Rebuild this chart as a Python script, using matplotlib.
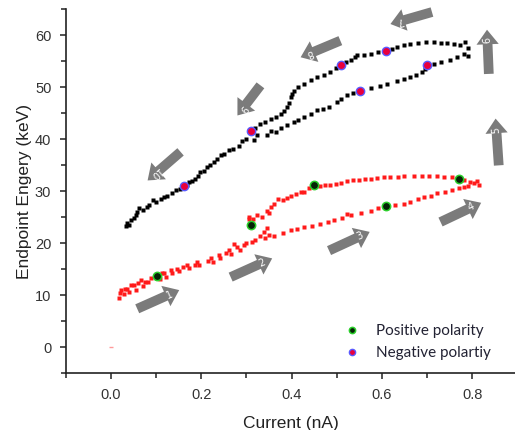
import numpy as np
import matplotlib
matplotlib.use("Agg")
import matplotlib.pyplot as plt
from matplotlib.ticker import MultipleLocator

# ---- measured data: Current (nA) vs endpoint energy (keV) ----
# positive polarity sweep (red)
pos_current = [0.018, 0.020, 0.021, 0.028, 0.030, 0.036, 0.040, 0.044, 0.051, 0.055,
               0.060, 0.066, 0.070, 0.075, 0.081, 0.088, 0.101, 0.108, 0.112, 0.118,
               0.122, 0.132, 0.135, 0.147, 0.150, 0.160, 0.169, 0.172, 0.185, 0.191,
               0.195, 0.215, 0.221, 0.225, 0.239, 0.242, 0.255, 0.261, 0.265, 0.272,
               0.280, 0.285, 0.294, 0.300, 0.313, 0.320, 0.331, 0.339, 0.345, 0.340,
               0.350, 0.306, 0.306, 0.315, 0.324, 0.335, 0.346, 0.350, 0.355, 0.361,
               0.369, 0.380, 0.390, 0.398, 0.410, 0.420, 0.428, 0.438, 0.449, 0.462,
               0.475, 0.486, 0.498, 0.510, 0.523, 0.537, 0.550, 0.562, 0.575, 0.590,
               0.605, 0.619, 0.635, 0.650, 0.671, 0.688, 0.705, 0.722, 0.738, 0.755,
               0.770, 0.783, 0.796, 0.805, 0.815, 0.810, 0.790, 0.781, 0.770, 0.756,
               0.740, 0.722, 0.708, 0.693, 0.680, 0.663, 0.650, 0.630, 0.610, 0.592,
               0.575, 0.553, 0.531, 0.523, 0.512, 0.494, 0.480, 0.464, 0.446, 0.428,
               0.413, 0.398, 0.380, 0.361]
pos_energy = [9.4, 10.4, 11.0, 10.2, 11.3, 11.2, 10.6, 12.0, 11.9, 11.0,
              12.4, 12.9, 11.8, 12.6, 12.6, 13.3, 13.7, 13.2, 14.3, 14.2,
              13.6, 14.8, 14.2, 15.1, 14.6, 15.5, 15.8, 15.2, 15.9, 16.4,
              15.9, 16.6, 17.1, 16.4, 17.7, 17.1, 18.2, 18.7, 18.0, 19.8,
              19.3, 18.8, 19.6, 20.0, 20.3, 20.6, 21.5, 22.2, 23.0, 21.0,
              21.6, 24.6, 25.1, 24.7, 25.4, 25.0, 26.3, 25.8, 27.0, 27.6,
              28.6, 28.3, 28.8, 29.2, 29.5, 29.8, 29.9, 30.6, 31.2, 31.0,
              31.2, 31.3, 31.5, 31.7, 31.9, 32.1, 32.2, 32.3, 32.4, 32.6,
              32.7, 32.75, 32.8, 32.9, 32.9, 32.9, 32.9, 32.9, 32.8, 32.7,
              32.4, 32.1, 31.8, 31.6, 31.3, 31.9, 31.0, 30.8, 30.6, 30.2,
              29.9, 29.6, 29.2, 28.9, 28.5, 27.9, 27.6, 27.3, 27.1, 26.7,
              26.3, 25.9, 25.4, 25.7, 24.9, 24.4, 24.1, 23.8, 23.4, 23.1,
              22.8, 22.5, 22.0, 21.5]

# negative polarity sweep (black)
neg_current = [0.033, 0.036, 0.040, 0.044, 0.050, 0.055, 0.058, 0.062, 0.070, 0.080,
               0.084, 0.092, 0.100, 0.110, 0.118, 0.125, 0.135, 0.143, 0.152, 0.161,
               0.168, 0.172, 0.180, 0.187, 0.193, 0.198, 0.205, 0.213, 0.220, 0.228,
               0.235, 0.243, 0.250, 0.261, 0.270, 0.283, 0.290, 0.300, 0.311, 0.316,
               0.324, 0.320, 0.331, 0.340, 0.354, 0.365, 0.376, 0.383, 0.390, 0.394,
               0.398, 0.402, 0.405, 0.415, 0.427, 0.442, 0.457, 0.472, 0.486, 0.498,
               0.510, 0.520, 0.531, 0.540, 0.545, 0.560, 0.575, 0.592, 0.610, 0.622,
               0.634, 0.648, 0.663, 0.680, 0.698, 0.715, 0.730, 0.745, 0.760, 0.774,
               0.785, 0.790, 0.781, 0.790, 0.767, 0.750, 0.730, 0.715, 0.700, 0.695,
               0.689, 0.675, 0.663, 0.648, 0.634, 0.612, 0.595, 0.575, 0.551, 0.537,
               0.523, 0.510, 0.501, 0.483, 0.470, 0.457, 0.442, 0.427, 0.415, 0.405,
               0.390, 0.376, 0.365, 0.354, 0.345]
neg_energy = [23.3, 24.0, 23.6, 24.4, 24.9, 25.4, 26.0, 26.7, 26.5, 27.0,
              27.3, 28.3, 28.0, 28.6, 28.9, 29.2, 29.6, 30.2, 30.4, 31.0,
              31.3, 31.8, 32.0, 32.4, 33.0, 33.7, 34.0, 34.7, 35.0, 35.6,
              36.3, 36.9, 37.2, 37.9, 38.2, 38.8, 39.7, 40.1, 41.5, 39.8,
              40.8, 42.2, 43.0, 43.4, 44.0, 44.4, 44.9, 45.5, 46.2, 47.0,
              48.1, 48.8, 49.4, 50.0, 50.7, 51.4, 52.0, 52.4, 52.9, 53.8,
              54.4, 54.8, 55.2, 55.8, 56.2, 56.3, 56.5, 56.8, 57.0, 57.4,
              57.8, 58.1, 58.4, 58.6, 58.7, 58.7, 58.6, 58.5, 58.4, 58.1,
              58.8, 57.5, 56.5, 56.0, 55.8, 55.3, 54.9, 54.6, 54.4, 53.6,
              52.9, 52.4, 52.0, 51.6, 51.3, 50.7, 50.3, 49.9, 49.3, 48.9,
              48.5, 47.7, 47.2, 46.3, 45.9, 45.6, 44.9, 44.3, 43.8, 43.3,
              42.7, 42.1, 41.5, 41.7, 40.9]

# highlighted operating points
pos_mark_current = [0.101, 0.311, 0.449, 0.610, 0.770]
pos_mark_energy = [13.7, 23.6, 31.2, 27.1, 32.4]
neg_mark_current = [0.161, 0.311, 0.510, 0.610, 0.551, 0.700]
neg_mark_energy = [31.0, 41.6, 54.4, 57.0, 49.3, 54.4]

# zero reference point
zero_current = [0.0]
zero_energy = [0.0]

# sweep-direction arrows: (label, tail, head) in data coordinates
arrows = [
    ("1", (0.058, 7.4), (0.151, 11.0)),
    ("2", (0.265, 13.5), (0.357, 17.1)),
    ("3", (0.483, 18.6), (0.573, 22.2)),
    ("4", (0.730, 24.1), (0.820, 27.8)),
    ("5", (0.859, 35.0), (0.852, 44.0)),
    ("6", (0.837, 52.6), (0.833, 61.1)),
    ("7", (0.711, 64.5), (0.619, 62.2)),
    ("8", (0.508, 59.0), (0.420, 55.8)),
    ("9", (0.331, 50.4), (0.280, 44.6)),
    ("10", (0.154, 37.6), (0.081, 32.1)),
]

fig = plt.figure(figsize=(5.15, 4.30), dpi=100)
ax = fig.add_axes([0.128, 0.132, 0.872, 0.846])

ax.plot(neg_current, neg_energy, ls="none", marker="s", ms=2.3, mec="none",
        color="black", zorder=3)
ax.plot(pos_current, pos_energy, ls="none", marker="s", ms=2.3, mec="none",
        color="#ff1a1a", zorder=3)
ax.plot(zero_current, zero_energy, ls="none", marker="_", ms=3, mew=1.0,
        color="#ff9a9a", zorder=3)

ax.plot(pos_mark_current, pos_mark_energy, ls="none", marker="o", ms=6.0,
        mfc="#062306", mec="#2ccf2c", mew=1.1, zorder=5,
        label="Positive polarity")
ax.plot(neg_mark_current, neg_mark_energy, ls="none", marker="o", ms=6.0,
        mfc="#e8003c", mec="#5a5aff", mew=1.0, zorder=5,
        label="Negative polartiy")

ax.set_xlim(-0.1, 0.895)
ax.set_ylim(-5, 65)
ax.xaxis.set_major_locator(MultipleLocator(0.2))
ax.xaxis.set_minor_locator(MultipleLocator(0.1))
ax.yaxis.set_major_locator(MultipleLocator(10))
ax.yaxis.set_minor_locator(MultipleLocator(5))
ax.xaxis.set_major_formatter(matplotlib.ticker.FormatStrFormatter("%.1f"))

for side in ("top", "right"):
    ax.spines[side].set_visible(False)
for side in ("left", "bottom"):
    ax.spines[side].set_linewidth(1.2)
    ax.spines[side].set_color("#222222")

ax.tick_params(which="both", direction="out", color="#222222", width=1.1)
ax.tick_params(which="major", length=4.5, pad=6, labelsize=10.5,
               labelcolor="#333333")
ax.tick_params(which="minor", length=3.5)
for lab in ax.get_xticklabels() + ax.get_yticklabels():
    lab.set_fontfamily("Liberation Sans")

ax.set_xlabel("Current (nA)", fontsize=12.5, family="Liberation Sans",
              color="#222222", labelpad=10)
ax.set_ylabel("Endpoint Engery (keV)", fontsize=12.5, family="Liberation Sans",
              color="#222222", labelpad=2)

# direction arrows with rotated numbers
arrow_color = "#7b7b7b"
fig.canvas.draw()
for label, tail, head in arrows:
    ax.annotate("", xy=head, xytext=tail, xycoords="data", textcoords="data",
                annotation_clip=False,
                arrowprops=dict(arrowstyle="simple,head_length=1.05,head_width=1.6,tail_width=0.7",
                                mutation_scale=10, color=arrow_color, lw=0,
                                shrinkA=0, shrinkB=0), zorder=4)
    p0 = ax.transData.transform(tail)
    p1 = ax.transData.transform(head)
    ang = np.degrees(np.arctan2(p1[1] - p0[1], p1[0] - p0[0]))
    f = 0.76
    tx = tail[0] + f * (head[0] - tail[0])
    ty = tail[1] + f * (head[1] - tail[1])
    ax.text(tx, ty, label, color="white", fontsize=7, rotation=ang,
            rotation_mode="anchor", ha="center", va="center",
            family="DejaVu Sans", zorder=6, clip_on=False)

leg = ax.legend(loc="center left", bbox_to_anchor=(0.585, 0.085), frameon=False,
                handlelength=1.2, handletextpad=1.0, labelspacing=0.5,
                markerscale=0.75, prop={"family": "Lato", "size": 11})
for t in leg.get_texts():
    t.set_color("#222233")

fig.savefig("out.png", dpi=100)
